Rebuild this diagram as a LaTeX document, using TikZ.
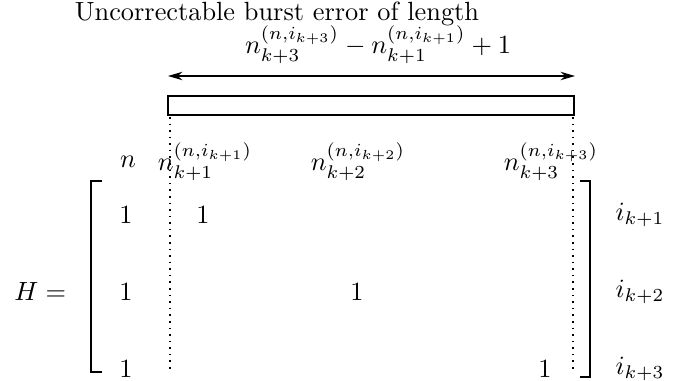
\documentclass[tikz,border=0pt]{standalone}
\usetikzlibrary{arrows.meta}
\begin{document}
\begin{tikzpicture}[x=0.38pt,y=-0.38pt,
  lbl/.style={inner sep=0pt,anchor=center},
  dotline/.style={line width=0.7pt,dash pattern=on 0.6pt off 1.9pt},
  brk/.style={line width=0.6pt},
  boxst/.style={draw,line width=0.6pt,inner sep=0pt},
  dimarrow/.style={line width=0.6pt,{Stealth[length=5.5pt,width=3.2pt]}-{Stealth[length=5.5pt,width=3.2pt]}}]
\useasboundingbox (0,0) rectangle (694,381);
\node[lbl] (title) at (277,14) {Uncorrectable burst error of length};
\node[lbl] (len) at (378,45) {$n_{k+3}^{(n,i_{k+3})}-n_{k+1}^{(n,i_{k+1})}+1$};
\coordinate (aL) at (168,76);
\coordinate (aR) at (575,76);
\draw[dimarrow] (aL) -- (aR);
\node[boxst,minimum width=406*0.38pt,minimum height=19*0.38pt] (box) at (371,105.5) {};
\coordinate (dL1) at (170,117);
\coordinate (dL2) at (170,372);
\coordinate (dR1) at (573,117);
\coordinate (dR2) at (573,372);
\draw[dotline] (dL1) -- (dL2);
\draw[dotline] (dR1) -- (dR2);
\node[lbl] (hn) at (128,162) {$n$};
\node[lbl] (h1) at (205,162) {$n_{k+1}^{(n,i_{k+1})}$};
\node[lbl] (h2) at (358,162) {$n_{k+2}^{(n,i_{k+2})}$};
\node[lbl] (h3) at (551,162) {$n_{k+3}^{(n,i_{k+3})}$};
\node[lbl,anchor=east] (H) at (74,292) {$H={}$};
\node[lbl] (a11) at (126,215) {$1$};
\node[lbl] (a12) at (203,215) {$1$};
\node[lbl] (a21) at (126,292) {$1$};
\node[lbl] (a22) at (357,292) {$1$};
\node[lbl] (a31) at (126,369) {$1$};
\node[lbl] (a32) at (545,369) {$1$};
\node[lbl] (r1) at (640,215) {$i_{k+1}$};
\node[lbl] (r2) at (640,292) {$i_{k+2}$};
\node[lbl] (r3) at (640,369) {$i_{k+3}$};
\draw[brk] (102,181) -- (91,181) -- (91,372) -- (102,372);
\draw[brk] (580,181) -- (590,181) -- (590,377) -- (580,377);
\end{tikzpicture}
\end{document}
